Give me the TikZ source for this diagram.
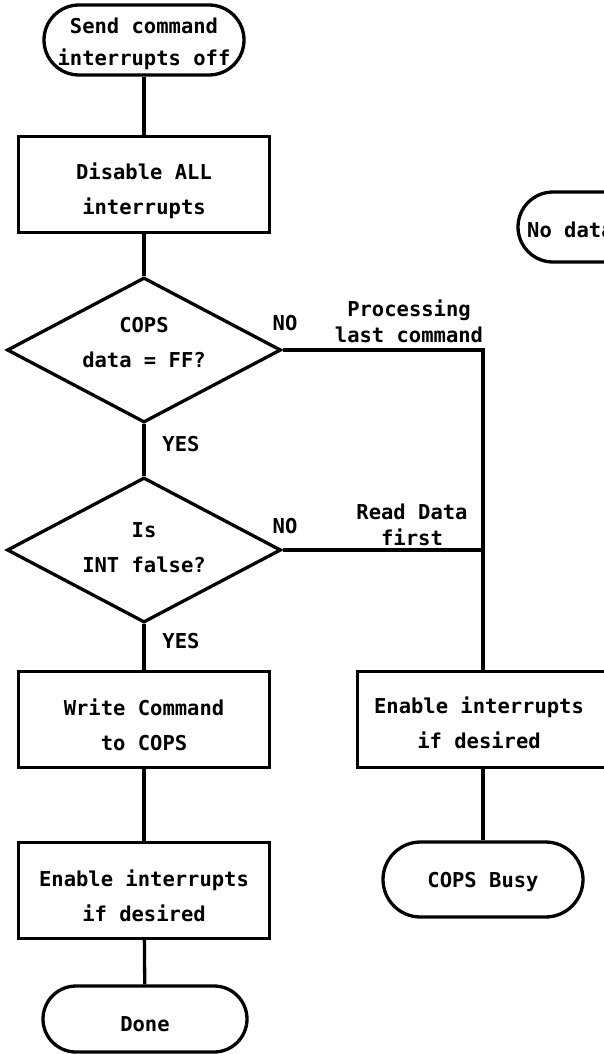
\documentclass[tikz,border=0pt]{standalone}
\usepackage{fontspec}
\newfontfamily\plotfont{DejaVu Sans Mono}
\usetikzlibrary{shapes.geometric,shapes.misc}
\begin{document}
\begin{tikzpicture}[x=1pt,y=-1pt]
\tikzset{
  flow/.style={line width=3.3pt},
  term/.style={draw, line width=3.3pt, rounded rectangle, minimum width=200pt, minimum height=70pt, inner sep=0pt},
  procbox/.style={draw, line width=3.3pt, rectangle, minimum width=251pt, minimum height=96pt, inner sep=0pt},
  decide/.style={draw, line width=3.3pt, diamond, minimum width=274pt, minimum height=145pt, inner sep=0pt},
  txt/.style={font=\plotfont\bfseries\fontsize{20.5}{35}\selectfont, align=center, inner sep=0pt},
  tag/.style={font=\plotfont\bfseries\fontsize{20.5}{26}\selectfont, align=center, inner sep=0pt},
}
\useasboundingbox (0,0) rectangle (604,1054);
\fill[white] (0,0) rectangle (604,1054);
\clip (0,0) rectangle (604,1054);

% left column
\node[term] (start) at (144,40) {};
\node[txt] (startT) at (144,44) {Send command\\[-3pt]interrupts off};
\node[procbox] (b1) at (144,184.5) {};
\node[txt] (b1T) at (144,191) {Disable ALL\\interrupts};
\node[decide] (d1) at (144,350) {};
\node[txt] (d1T) at (144,343) {COPS\\data = FF?};
\node[decide] (d2) at (144,550) {};
\node[txt] (d2T) at (144,548) {Is\\INT false?};
\node[procbox] (b2) at (144,719.5) {};
\node[txt] (b2T) at (144,725) {Write Command\\to COPS};
\node[procbox] (b3) at (144,890.5) {};
\node[txt] (b3T) at (144,896) {Enable interrupts\\if desired};
\node[term, minimum width=204pt, minimum height=66pt] (done) at (145,1019) {};
\node[txt] (doneT) at (145,1024) {Done};

% right column
\node[procbox] (rb) at (483,719.5) {};
\node[txt] (rbT) at (479,723) {Enable interrupts\\if desired};
\node[term, minimum height=75pt] (busy) at (483,879.5) {};
\node[txt] (busyT) at (483,882) {COPS Busy};
\node[term, minimum width=204pt] (nodata) at (620,227) {};
\node[txt, anchor=west] (nodataT) at (527,230) {No data};

% branch labels
\node[tag] (no1) at (285,323) {NO};
\node[tag] (no1T) at (409,321) {Processing\\last command};
\node[tag] (yes1) at (181,444) {YES};
\node[tag] (no2) at (285,526) {NO};
\node[tag] (no2T) at (412,525) {Read Data\\first};
\node[tag] (yes2) at (181,641) {YES};

% connectors
\coordinate (j1) at (483,350);
\coordinate (j2) at (483,550);
\draw[flow] (start) -- (b1);
\draw[flow] (b1) -- (d1);
\draw[flow] (d1.south) -- (d2.north);
\draw[flow] (d2.south) -- (b2);
\draw[flow] (b2) -- (b3);
\draw[flow] (b3) -- (done);
\draw[flow] (d1.east) -- (j1) -- (rb.north);
\draw[flow] (d2.east) -- (j2);
\draw[flow] (rb) -- (busy);
\end{tikzpicture}
\end{document}
